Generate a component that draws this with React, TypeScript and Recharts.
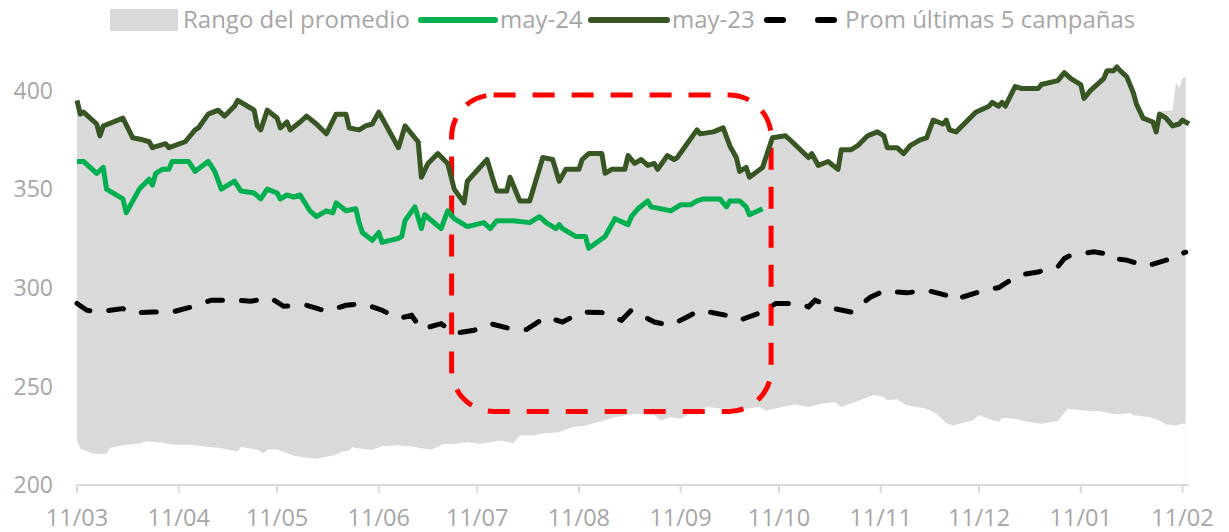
import { ComposedChart, Area, Line, XAxis, YAxis, ReferenceArea } from 'recharts'

// days counted from 11/03
const monthTicks = [0, 31, 61, 92, 122, 153, 184, 214, 245, 275, 306, 337]
const monthLabels = ['11/03', '11/04', '11/05', '11/06', '11/07', '11/08', '11/09', '11/10', '11/11', '11/12', '11/01', '11/02']
const valueTicks = [200, 250, 300, 350, 400]

const may23: [number, number][] = [
  [0, 395], [1, 388], [2, 389], [6, 383], [7, 377], [8, 382], [14, 386], [17, 376], [20, 375], [22, 374],
  [23, 371], [27, 373], [28, 371], [33, 374], [36, 380], [37, 381], [40, 388], [43, 390], [45, 387], [48, 392],
  [49, 395], [51, 393], [54, 390], [55, 382], [56, 380], [58, 390], [61, 386], [62, 381], [64, 384], [65, 380],
  [68, 384], [70, 387], [73, 383], [76, 378], [79, 388], [82, 388], [83, 381], [86, 380], [88, 382], [90, 383],
  [92, 389], [93, 386], [98, 371], [100, 382], [104, 374], [105, 356], [107, 363], [110, 368], [113, 363], [115, 350],
  [118, 343], [119, 354], [125, 365], [127, 354], [128, 349], [131, 349], [132, 356], [135, 344], [138, 344], [142, 366],
  [145, 365], [147, 354], [149, 360], [153, 360], [154, 365], [156, 368], [160, 368], [161, 358], [163, 360], [167, 360],
  [168, 367], [170, 363], [172, 365], [174, 362], [176, 363], [177, 360], [180, 367], [182, 365], [183, 366], [189, 380],
  [190, 378], [194, 379], [197, 381], [199, 372], [201, 366], [202, 359], [204, 361], [205, 356], [209, 361], [212, 376],
  [216, 377], [218, 374], [223, 366], [224, 368], [226, 362], [229, 364], [232, 360], [233, 370], [236, 370], [238, 372],
  [241, 377], [244, 379], [246, 377], [247, 371], [250, 371], [252, 368], [254, 372], [257, 375], [259, 376], [261, 385],
  [264, 383], [265, 385], [266, 380], [268, 379], [274, 389], [278, 392], [279, 394], [281, 392], [282, 394], [283, 392],
  [286, 402], [288, 401], [293, 401], [294, 403], [299, 405], [301, 409], [303, 406], [306, 403], [307, 396], [309, 400],
  [313, 406], [314, 410], [316, 410], [317, 412], [318, 410], [320, 407], [322, 399], [323, 393], [325, 386], [328, 384],
  [329, 379], [330, 388], [332, 386], [334, 382], [336, 383], [337, 385], [339, 383],
]

const may24: [number, number][] = [
  [0, 364], [2, 364], [6, 358], [8, 361], [9, 350], [14, 345], [15, 338], [19, 350], [22, 355], [23, 352],
  [24, 358], [26, 360], [28, 360], [29, 364], [34, 364], [36, 359], [40, 364], [42, 359], [44, 350], [48, 354],
  [50, 349], [54, 348], [56, 345], [58, 350], [61, 348], [62, 345], [64, 347], [66, 346], [68, 347], [71, 339],
  [73, 336], [76, 339], [78, 338], [79, 343], [82, 339], [85, 340], [86, 333], [87, 328], [90, 324], [92, 328],
  [93, 323], [98, 325], [99, 326], [100, 334], [103, 341], [105, 330], [106, 337], [111, 330], [113, 339], [115, 335],
  [119, 331], [124, 333], [126, 330], [128, 334], [133, 334], [138, 333], [141, 336], [143, 333], [146, 330], [147, 332],
  [148, 330], [152, 326], [155, 326], [156, 320], [161, 326], [164, 335], [168, 332], [169, 336], [171, 340], [174, 344],
  [175, 341], [181, 339], [184, 342], [187, 342], [189, 344], [191, 345], [196, 345], [198, 341], [199, 344], [202, 344],
  [204, 341], [205, 337], [209, 340],
]

const avg5: [number, number][] = [
  [0, 292], [3, 288.6], [6, 287.7], [14, 289.4], [16, 287.2], [23, 287.7], [29, 287.7], [35, 290.3], [41, 293.7], [48, 293.7],
  [53, 293.2], [59, 294.8], [63, 290.6], [70, 291.1], [76, 288.1], [82, 291.1], [87, 292], [93, 288.6], [98, 284.4], [102, 286],
  [105, 279], [111, 281.8], [115, 276.8], [121, 278.4], [126, 281.8], [132, 279.3], [137, 278.8], [143, 285.2], [148, 282.6], [154, 287.7],
  [160, 287.4], [166, 283.5], [169, 288.6], [176, 282.6], [181, 281], [186, 285.2], [190, 288.6], [198, 286], [202, 283.5], [209, 287.7],
  [213, 292], [220, 292], [223, 290.3], [225, 293.7], [231, 289.4], [236, 287.7], [242, 295.3], [246, 298.4], [253, 297.4], [259, 298.7],
  [265, 296.2], [267, 293.7], [270, 295.3], [276, 298.4], [281, 300.1], [287, 306.3], [293, 308], [299, 310.6], [301, 314.8], [303, 316.5],
  [310, 318.2], [313, 317.4], [314, 315.3], [320, 314], [326, 310.9], [332, 314], [334, 314.3], [337, 317.4], [338, 318],
]

const rangeLow: [number, number][] = [
  [0, 222.6], [1, 218.4], [5, 215.8], [9, 215.8], [10, 218.7], [15, 220.4], [19, 220.9], [21, 222.2], [26, 221.4], [29, 220.4],
  [35, 220.4], [38, 219.6], [43, 218.9], [49, 217], [50, 219.2], [55, 217.9], [57, 216.1], [58, 218], [61, 218], [66, 215],
  [69, 214.1], [73, 213.3], [78, 215], [81, 217], [83, 217.5], [84, 219.2], [85, 218.7], [90, 217.9], [93, 219.6], [98, 220.1],
  [103, 219.2], [108, 217.9], [112, 220.9], [114, 220.6], [119, 221.7], [123, 220.9], [129, 222.6], [133, 221.2], [135, 225.1], [139, 225.1],
  [143, 226.3], [147, 226.8], [151, 229.3], [155, 230.2], [159, 231.9], [164, 234.4], [170, 236.1], [176, 235.3], [178, 232.7], [181, 234.4],
  [184, 233.6], [187, 236.1], [192, 239.5], [197, 238.7], [204, 238.7], [208, 239.5], [210, 237.8], [219, 240.9], [223, 239.5], [227, 241.2],
  [231, 242], [233, 239.5], [237, 242], [243, 245.8], [246, 244.6], [247, 242.9], [250, 243.4], [253, 240.4], [259, 238.7], [262, 236.1],
  [265, 231.4], [267, 230.2], [273, 232.7], [275, 235.3], [278, 233.6], [281, 231.9], [282, 234.1], [286, 233.6], [290, 231.9], [294, 231.1],
  [299, 232.4], [302, 238.7], [307, 237.8], [312, 237.3], [317, 235.8], [321, 236.5], [322, 235.3], [327, 234.4], [330, 232.7], [332, 230.7],
  [335, 230.2], [337, 231.1], [338, 231.1],
]

// top of the range follows may-23 except at the very end
const rangeHighTail: [number, number][] = [
  [330, 389.5], [334, 390], [335, 404], [336, 401], [337, 406], [338, 407],
]

// red annotation box: [day from, day to, value low, value high]
const focusBox = [114.2, 211.6, 237.3, 397.7]

const toRows = (pts: [number, number][]) => pts.map(([day, v]) => ({ day, v }))
const rangeHigh = [...may23.filter(([d]) => d < 330), ...rangeHighTail]

const GRAY = '#A6A6A6'
const FONT = '"Open Sans", sans-serif'

const RoundedBox = (p: any) => (
  <rect
    x={p.x} y={p.y} width={p.width} height={p.height} rx={42} ry={42}
    fill="none" stroke="#FF0000" strokeWidth={5} strokeDasharray="22 17"
  />
)

function LegendRow() {
  const txt = { position: 'absolute' as const, top: 3, fontSize: 24, color: GRAY, fontFamily: FONT, lineHeight: '32px', whiteSpace: 'nowrap' as const }
  return (
    <div style={{ position: 'absolute', left: 0, top: 0, width: 1229, height: 40 }}>
      <div style={{ position: 'absolute', left: 110, top: 9, width: 68, height: 22, background: '#D9D9D9' }} />
      <div style={{ ...txt, left: 183 }}>Rango del promedio</div>
      <svg style={{ position: 'absolute', left: 418, top: 10 }} width={80} height={20}>
        <line x1={3} y1={10} x2={77} y2={10} stroke="#00B050" strokeWidth={6} strokeLinecap="round" />
      </svg>
      <div style={{ ...txt, left: 500 }}>may-24</div>
      <svg style={{ position: 'absolute', left: 588, top: 10 }} width={82} height={20}>
        <line x1={3} y1={10} x2={79} y2={10} stroke="#375623" strokeWidth={6} strokeLinecap="round" />
      </svg>
      <div style={{ ...txt, left: 672 }}>may-23</div>
      <svg style={{ position: 'absolute', left: 762, top: 10 }} width={78} height={20}>
        <line x1={5} y1={10} x2={73} y2={10} stroke="#000" strokeWidth={6} strokeLinecap="round" strokeDasharray="16 35" />
      </svg>
      <div style={{ ...txt, left: 845 }}>Prom últimas 5 campañas</div>
    </div>
  )
}

export default function App() {
  return (
    <div style={{ position: 'absolute', left: 0, top: 0, width: 1229, height: 532, background: '#fff' }}>
      <ComposedChart width={1229} height={532} margin={{ top: 51, right: 40, bottom: 17, left: 17 }}>
        <XAxis
          type="number" dataKey="day" domain={[0, 339]} ticks={monthTicks} interval={0}
          tickFormatter={(_v: number, i: number) => monthLabels[i]}
          axisLine={{ stroke: '#D9D9D9', strokeWidth: 2 }} tickLine={{ stroke: '#D9D9D9', strokeWidth: 2 }}
          tickSize={8} tickMargin={16} height={30}
          tick={{ fill: GRAY, fontSize: 23.5, fontFamily: FONT }}
        />
        <YAxis
          type="number" domain={[200, 420]} ticks={valueTicks} interval={0} width={60}
          axisLine={false} tickLine={false} tickSize={0} tickMargin={24}
          tick={{ fill: GRAY, fontSize: 23, fontFamily: FONT }}
        />
        <Area data={toRows(rangeHigh)} dataKey="v" type="linear" stroke="none" fill="#D9D9D9" fillOpacity={1} isAnimationActive={false} />
        <Area data={toRows(rangeLow)} dataKey="v" type="linear" stroke="none" fill="#FFFFFF" fillOpacity={1} isAnimationActive={false} />
        <Line data={toRows(avg5)} dataKey="v" type="linear" stroke="#000" strokeWidth={5} strokeDasharray="15 19" strokeLinecap="round" dot={false} isAnimationActive={false} />
        <Line data={toRows(may23)} dataKey="v" type="linear" stroke="#375623" strokeWidth={5} strokeLinejoin="round" dot={false} isAnimationActive={false} />
        <Line data={toRows(may24)} dataKey="v" type="linear" stroke="#00B050" strokeWidth={5} strokeLinejoin="round" dot={false} isAnimationActive={false} />
        <ReferenceArea x1={focusBox[0]} x2={focusBox[1]} y1={focusBox[2]} y2={focusBox[3]} shape={RoundedBox} ifOverflow="visible" />
      </ComposedChart>
      <LegendRow />
    </div>
  )
}
